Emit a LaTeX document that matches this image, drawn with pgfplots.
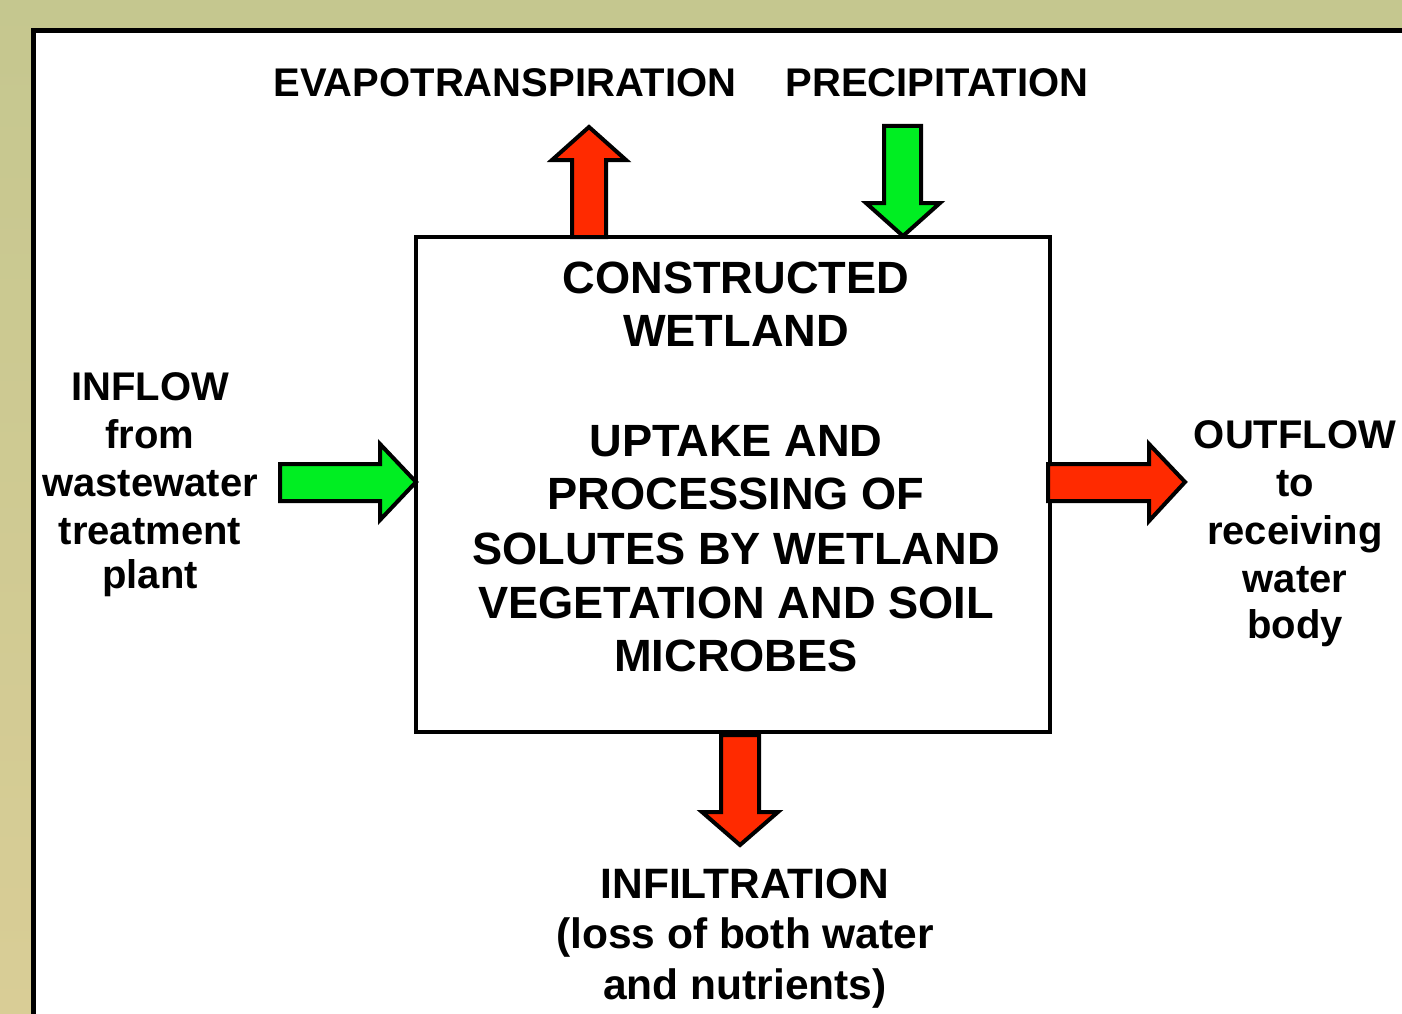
\documentclass[border=0pt]{standalone}
\usepackage{fontspec}
\setmainfont{Liberation Sans}
\usepackage{pgfplots}
\pgfplotsset{compat=1.18}

\definecolor{bgtop}{RGB}{197,199,143}
\definecolor{bgbot}{RGB}{217,205,150}
\definecolor{arrred}{RGB}{255,42,0}
\definecolor{arrgreen}{RGB}{0,238,34}

\newcommand{\lbl}[1]{\fontsize{40}{46}\selectfont\bfseries #1}
\newcommand{\side}[1]{\fontsize{40}{48}\selectfont\bfseries #1}
\newcommand{\bott}[1]{\fontsize{42.5}{50}\selectfont\bfseries #1}
\newcommand{\boxt}[1]{\fontsize{45.2}{53}\selectfont\bfseries #1}

\begin{document}
\begin{tikzpicture}
\begin{axis}[
  scale only axis,
  width=1402pt, height=1014pt,
  xmin=0, xmax=1402, ymin=0, ymax=1014,
  y dir=reverse,
  hide axis,
]
  % background and panel
  \addplot[draw=none, top color=bgtop, bottom color=bgbot] coordinates {(0,0) (1402,0) (1402,1014) (0,1014)} -- cycle;
  \addplot[fill=white, draw=black, line width=5pt] coordinates {(33.5,30.5) (1420,30.5) (1420,1030) (33.5,1030)} -- cycle;

  % central box
  \addplot[fill=white, draw=black, line width=3.5pt] coordinates {(416,237) (1050,237) (1050,732) (416,732)} -- cycle;

  % evapotranspiration (up, red)
  \addplot[fill=arrred, draw=black, line width=4pt, line join=miter] coordinates {(572,237) (572,160) (552,160) (589,127) (626,160) (606,160) (606,237)} -- cycle;
  % precipitation (down, green)
  \addplot[fill=arrgreen, draw=black, line width=4pt, line join=miter] coordinates {(884,126) (921,126) (921,203) (940,203) (903,236) (866,203) (884,203)} -- cycle;
  % inflow (right, green)
  \addplot[fill=arrgreen, draw=black, line width=4pt, line join=miter] coordinates {(280,464) (380,464) (380,444) (416,482) (380,520) (380,501) (280,501)} -- cycle;
  % outflow (right, red)
  \addplot[fill=arrred, draw=black, line width=4pt, line join=miter] coordinates {(1048,464) (1149,464) (1149,444) (1185,482) (1149,521) (1149,501) (1048,501)} -- cycle;
  % infiltration (down, red)
  \addplot[fill=arrred, draw=black, line width=4pt, line join=miter] coordinates {(721,735) (759,735) (759,812) (778,812) (740,845) (702,812) (721,812)} -- cycle;

  % labels
  \node[anchor=base] at (axis cs:505,97) {\lbl{EVAPOTRANSPIRATION}};
  \node[anchor=base] at (axis cs:937,97) {\lbl{PRECIPITATION}};

  \node[anchor=base] at (axis cs:150,400) {\side{INFLOW}};
  \node[anchor=base] at (axis cs:150,448) {\side{from}};
  \node[anchor=base] at (axis cs:150,496) {\side{wastewater}};
  \node[anchor=base] at (axis cs:150,544) {\side{treatment}};
  \node[anchor=base] at (axis cs:150,588) {\side{plant}};

  \node[anchor=base] at (axis cs:1295,448) {\side{OUTFLOW}};
  \node[anchor=base] at (axis cs:1295,496) {\side{to}};
  \node[anchor=base] at (axis cs:1295,544) {\side{receiving}};
  \node[anchor=base] at (axis cs:1295,592) {\side{water}};
  \node[anchor=base] at (axis cs:1295,638) {\side{body}};

  \node[anchor=base] at (axis cs:736,293) {\boxt{CONSTRUCTED}};
  \node[anchor=base] at (axis cs:736,346) {\boxt{WETLAND}};
  \node[anchor=base] at (axis cs:736,456) {\boxt{UPTAKE AND}};
  \node[anchor=base] at (axis cs:736,509) {\boxt{PROCESSING OF}};
  \node[anchor=base] at (axis cs:736,564) {\boxt{SOLUTES BY WETLAND}};
  \node[anchor=base] at (axis cs:736,618) {\boxt{VEGETATION AND SOIL}};
  \node[anchor=base] at (axis cs:736,671) {\boxt{MICROBES}};

  \node[anchor=base] at (axis cs:745,898) {\bott{INFILTRATION}};
  \node[anchor=base] at (axis cs:745,948) {\bott{(loss of both water}};
  \node[anchor=base] at (axis cs:745,999) {\bott{and nutrients)}};
\end{axis}
\end{tikzpicture}
\end{document}
